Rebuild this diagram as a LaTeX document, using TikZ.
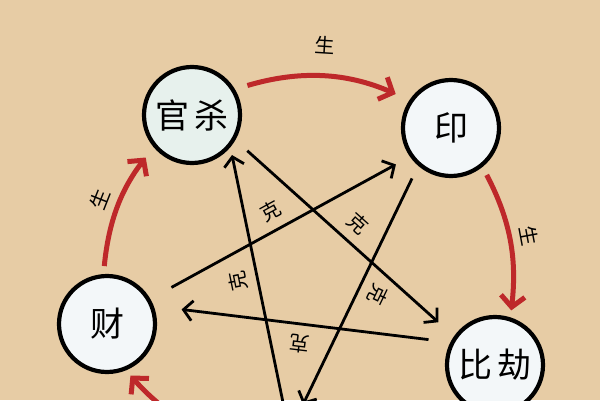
\documentclass[tikz,border=0pt]{standalone}
\usepackage{fontspec}
\newfontfamily\cjk{Noto Sans CJK SC}
\usepackage{tikz}
\usetikzlibrary{arrows.meta}
\usepackage{xcolor}
\definecolor{paper}{RGB}{231,204,165}
\definecolor{shengred}{RGB}{190,40,42}
\definecolor{disc}{RGB}{243,247,249}
\definecolor{discg}{RGB}{231,241,237}

\begin{document}
\begin{tikzpicture}[x=1pt,y=1pt,
  god/.style={circle,draw=black,line width=4.2pt,fill=disc,minimum size=96pt,inner sep=0pt,font=\cjk\fontsize{34}{34}\selectfont},
  sheng/.style={draw=shengred,line width=5pt,-{Straight Barb[length=11pt,width=24pt]}},
  ke/.style={draw=black,line width=2.8pt,-{Straight Barb[length=9pt,width=20pt]}},
  lab/.style={midway,sloped,allow upside down,above=8pt,inner sep=1pt,font=\cjk\fontsize{20}{20}\selectfont}]
\useasboundingbox (0,0) rectangle (600,400);
\fill[paper] (0,0) rectangle (600,400);
\clip (0,0) rectangle (600,400);
\node[god,fill=discg] (guansha) at (192,285) {官\hspace{5pt}杀};
\node[god] (yin) at (451,272) {印};
\node[god] (bijie) at (495,35) {比\hspace{5pt}劫};
\node[god] (cai) at (107,76) {财};
\node[circle,minimum size=96pt] (bottom) at (295,-55) {};
\draw[sheng,shorten <=13pt,shorten >=15pt] (guansha.31) to[bend left=20] node[lab,above=12pt]{生} (yin.146);
\draw[sheng,shorten <=9pt,shorten >=7pt] (yin.-51) to[bend left=17] node[lab]{生} (bijie.72);
\draw[sheng,shorten <=8pt,shorten >=13pt] (cai.94) to[bend left=16] node[lab]{生} (guansha.220);
\draw[sheng,shorten >=7pt] (bottom.170) to[bend left=16] (cai.-68);
\draw[ke,shorten >=8pt] (bottom.103) -- (guansha.-40) node[lab,pos=.5]{克};
\draw[ke,shorten <=16pt,shorten >=21pt] (guansha.-30) -- (bijie.145) node[lab]{克};
\draw[ke,shorten <=24pt,shorten >=16pt] (cai.30) -- (yin.-145) node[lab]{克};
\draw[ke,shorten <=14pt,shorten >=3pt] (yin.-131) -- (bottom.82) node[lab]{克};
\draw[ke,shorten <=22pt,shorten >=28pt] (bijie.153) -- (cai.21) node[lab]{克};
\end{tikzpicture}
\end{document}
